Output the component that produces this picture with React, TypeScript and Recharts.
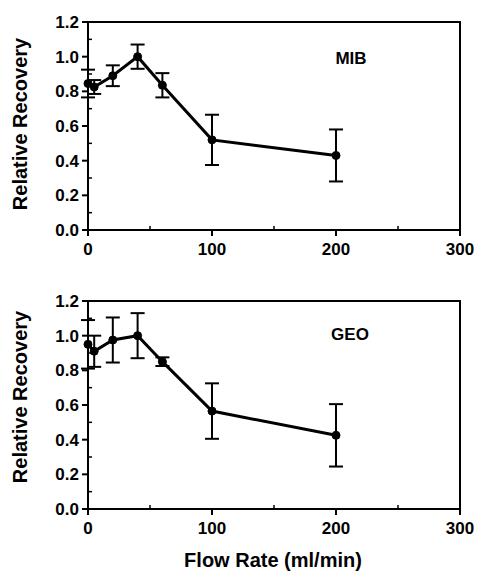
import React from 'react';
import { ComposedChart, Line, XAxis, YAxis, ErrorBar, ReferenceArea } from 'recharts';

const flowRates = [0, 5, 20, 40, 60, 100, 200];
const mibRecovery = [0.845, 0.825, 0.89, 1.0, 0.835, 0.52, 0.43];
const mibError = [0.08, 0.04, 0.06, 0.07, 0.07, 0.145, 0.15];
const geoRecovery = [0.95, 0.91, 0.975, 1.0, 0.85, 0.565, 0.425];
const geoError = [0.14, 0.09, 0.13, 0.13, 0.025, 0.16, 0.18];

const xTicks = [0, 50, 100, 150, 200, 250, 300];
const yTicks = [0, 0.1, 0.2, 0.3, 0.4, 0.5, 0.6, 0.7, 0.8, 0.9, 1.0, 1.1, 1.2];

const FONT = '"Liberation Sans", Arial, sans-serif';

const mibData = flowRates.map((x, i) => ({ x, y: mibRecovery[i], err: mibError[i] }));
const geoData = flowRates.map((x, i) => ({ x, y: geoRecovery[i], err: geoError[i] }));

const XTick = ({ x, y, payload }: any) => {
    const major = payload.value % 100 === 0;
    return (
        <g>
            {major ? (
                <line x1={x} y1={y} x2={x} y2={y + 6} stroke="#000" strokeWidth={2} />
            ) : (
                <line x1={x} y1={y} x2={x} y2={y - 4} stroke="#000" strokeWidth={1.5} />
            )}
            {major && (
                <text x={x} y={y + 25} textAnchor="middle" fontFamily={FONT} fontWeight="bold" fontSize={17} fill="#000">
                    {payload.value}
                </text>
            )}
        </g>
    );
};

const YTick = ({ x, y, payload }: any) => {
    const major = Math.round(payload.value * 10) % 2 === 0;
    return (
        <g>
            {major ? (
                <line x1={x} y1={y} x2={x - 6} y2={y} stroke="#000" strokeWidth={2} />
            ) : (
                <line x1={x} y1={y} x2={x + 4} y2={y} stroke="#000" strokeWidth={1.5} />
            )}
            {major && (
                <text x={x - 9} y={y + 6} textAnchor="end" fontFamily={FONT} fontWeight="bold" fontSize={17} fill="#000">
                    {payload.value.toFixed(1)}
                </text>
            )}
        </g>
    );
};

const Panel = ({ data, bottom }: { data: any[]; bottom: number }) => (
    <ComposedChart width={478} height={230 + 30 + bottom} data={data} margin={{ top: 22, right: 18, left: 48, bottom }}>
        <ReferenceArea x1={0} x2={300} y1={0} y2={1.2} stroke="#000" strokeWidth={2} fill="none" ifOverflow="visible" />
        <XAxis
            dataKey="x"
            type="number"
            domain={[0, 300]}
            ticks={xTicks}
            height={30}
            tickSize={0}
            tickMargin={0}
            tickLine={false}
            axisLine={{ stroke: '#000', strokeWidth: 2 }}
            tick={<XTick />}
            interval={0}
        />
        <YAxis
            type="number"
            domain={[0, 1.2]}
            ticks={yTicks}
            width={40}
            tickSize={0}
            tickMargin={0}
            tickLine={false}
            axisLine={{ stroke: '#000', strokeWidth: 2 }}
            tick={<YTick />}
            interval={0}
        />
        <Line
            dataKey="y"
            stroke="#000"
            strokeWidth={3}
            dot={{ r: 4, fill: '#000', stroke: '#000', strokeWidth: 1 }}
            isAnimationActive={false}
        >
            <ErrorBar dataKey="err" width={7} stroke="#000" strokeWidth={2} isAnimationActive={false} />
        </Line>
    </ComposedChart>
);

const label = (left: number, top: number, size: number, rotate = false): React.CSSProperties => ({
    position: 'absolute',
    left,
    top,
    transform: `translate(-50%, -50%)${rotate ? ' rotate(-90deg)' : ''}`,
    fontFamily: FONT,
    fontWeight: 'bold',
    fontSize: size,
    whiteSpace: 'nowrap',
    color: '#000',
});

export default function App() {
    return (
        <div style={{ position: 'absolute', left: 0, top: 0, width: 478, height: 578, background: '#fff' }}>
            <div style={{ position: 'absolute', left: 0, top: 0 }}>
                <Panel data={mibData} bottom={10} />
            </div>
            <div style={{ position: 'absolute', left: 0, top: 279 }}>
                <Panel data={geoData} bottom={9} />
            </div>
            <div style={label(351, 59, 17)}>MIB</div>
            <div style={label(350, 335, 17)}>GEO</div>
            <div style={label(20, 124, 20, true)}>Relative Recovery</div>
            <div style={label(20, 397, 20, true)}>Relative Recovery</div>
            <div style={label(273, 560, 20)}>Flow Rate (ml/min)</div>
        </div>
    );
}
